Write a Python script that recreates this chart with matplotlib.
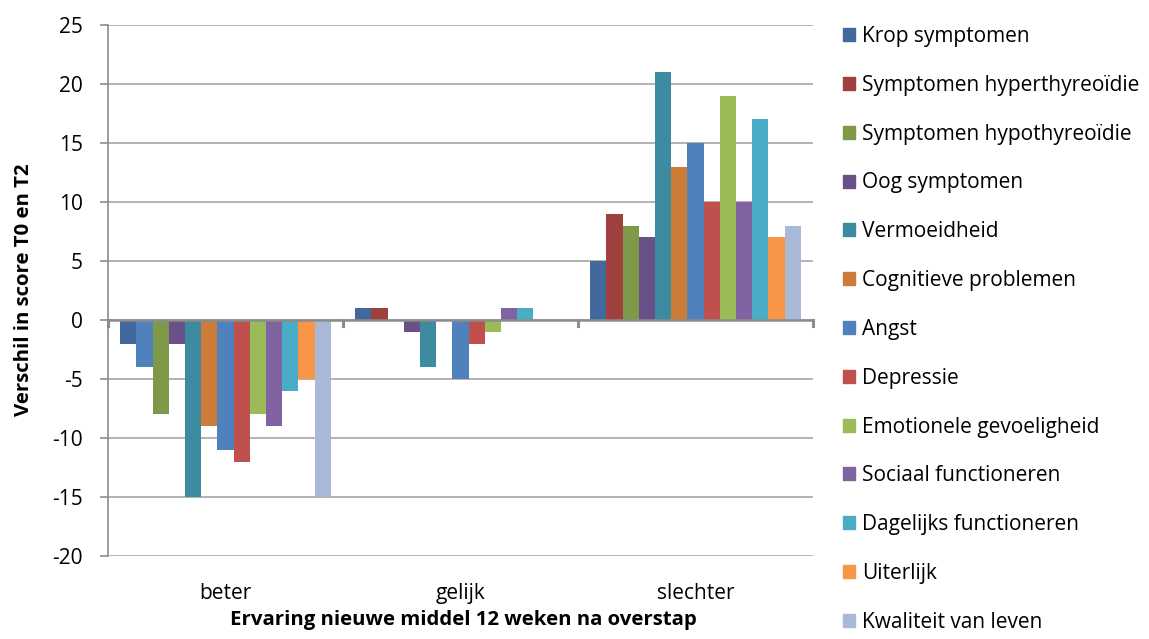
import matplotlib
matplotlib.use("Agg")
import matplotlib.pyplot as plt
import numpy as np

plt.rcParams['font.family'] = ['Open Sans', 'DejaVu Sans']
plt.rcParams['axes.unicode_minus'] = False

categories = ["beter", "gelijk", "slechter"]
series_names = [
    "Krop symptomen",
    "Symptomen hyperthyreoïdie",
    "Symptomen hypothyreoïdie",
    "Oog symptomen",
    "Vermoeidheid",
    "Cognitieve problemen",
    "Angst",
    "Depressie",
    "Emotionele gevoeligheid",
    "Sociaal functioneren",
    "Dagelijks functioneren",
    "Uiterlijk",
    "Kwaliteit van leven",
]
values = [
    [-2, 1, 5],
    [-4, 1, 9],
    [-8, 0, 8],
    [-2, -1, 7],
    [-15, -4, 21],
    [-9, 0, 13],
    [-11, -5, 15],
    [-12, -2, 10],
    [-8, -1, 19],
    [-9, 1, 10],
    [-6, 1, 17],
    [-5, 0, 7],
    [-15, 0, 8],
]
colors = [
    "#41699B", "#9E413E", "#7E9A48", "#6A5088", "#3D8BA1", "#CC7B38",
    "#4F81BD", "#C0504D", "#9BBB59", "#8064A2", "#4BACC6", "#F79646",
    "#AAB9D8",
]
# individually recoloured points: (series index, category index) -> colour
point_colors = {(1, 0): "#4F81BD"}

W, H = 1149, 639
fig = plt.figure(figsize=(W / 100, H / 100), dpi=100)
ax = fig.add_axes([108 / W, 1 - 556 / H, (813 - 108) / W, (556 - 25) / H])

n = len(series_names)
gap = 1.5
w = 1.0 / (n + gap)
x = np.arange(len(categories))
handles = []
for i, (name, vals, c) in enumerate(zip(series_names, values, colors)):
    offs = x - 0.5 + (gap / 2) * w + (i + 0.5) * w
    cols = [point_colors.get((i, j), c) for j in range(len(categories))]
    ax.bar(offs, vals, width=w, color=cols, edgecolor="none", zorder=3)
    handles.append(plt.Rectangle((0, 0), 1, 1, color=c, label=name))

ax.set_xlim(-0.5, len(categories) - 0.5)
ax.set_ylim(-20, 25)
ax.set_yticks(np.arange(-20, 26, 5))
ax.grid(axis="y", color="#A6A6A6", linewidth=1.2, zorder=0)
ax.set_axisbelow(True)

for s in ["top", "right", "bottom"]:
    ax.spines[s].set_visible(False)
ax.spines["left"].set_color("#8C8C8C")
ax.spines["left"].set_linewidth(1.2)
ax.axhline(0, color="#8C8C8C", linewidth=1.8, zorder=4)

ax.tick_params(axis="y", length=6, width=1.2, color="#8C8C8C", labelsize=15, pad=12)
ax.set_xticks(x)
ax.set_xticklabels(categories, fontsize=15)
ax.tick_params(axis="x", length=0, pad=19.5)
# category separator ticks on the zero line
for b in np.arange(-0.5, len(categories), 1.0):
    ax.plot([b, b], [0, -0.55], color="#8C8C8C", linewidth=2.2, zorder=4, clip_on=False)

fig.text(24 / W, 1 - 290 / H, "Verschil in score T0 en T2", rotation=90,
         ha="center", va="center", fontsize=14.7, fontweight="bold")
fig.text(463 / W, 1 - 620 / H, "Ervaring nieuwe middel 12 weken na overstap",
         ha="center", va="center", fontsize=14.7, fontweight="bold")

fig.legend(handles=handles, loc="upper left", bbox_to_anchor=(843 / W, 1 - 26 / H),
           frameon=False, fontsize=15, handlelength=0.58, handleheight=0.58,
           handletextpad=0.34, labelspacing=1.335, borderaxespad=0, borderpad=0)

fig.savefig("out.png", dpi=100)
